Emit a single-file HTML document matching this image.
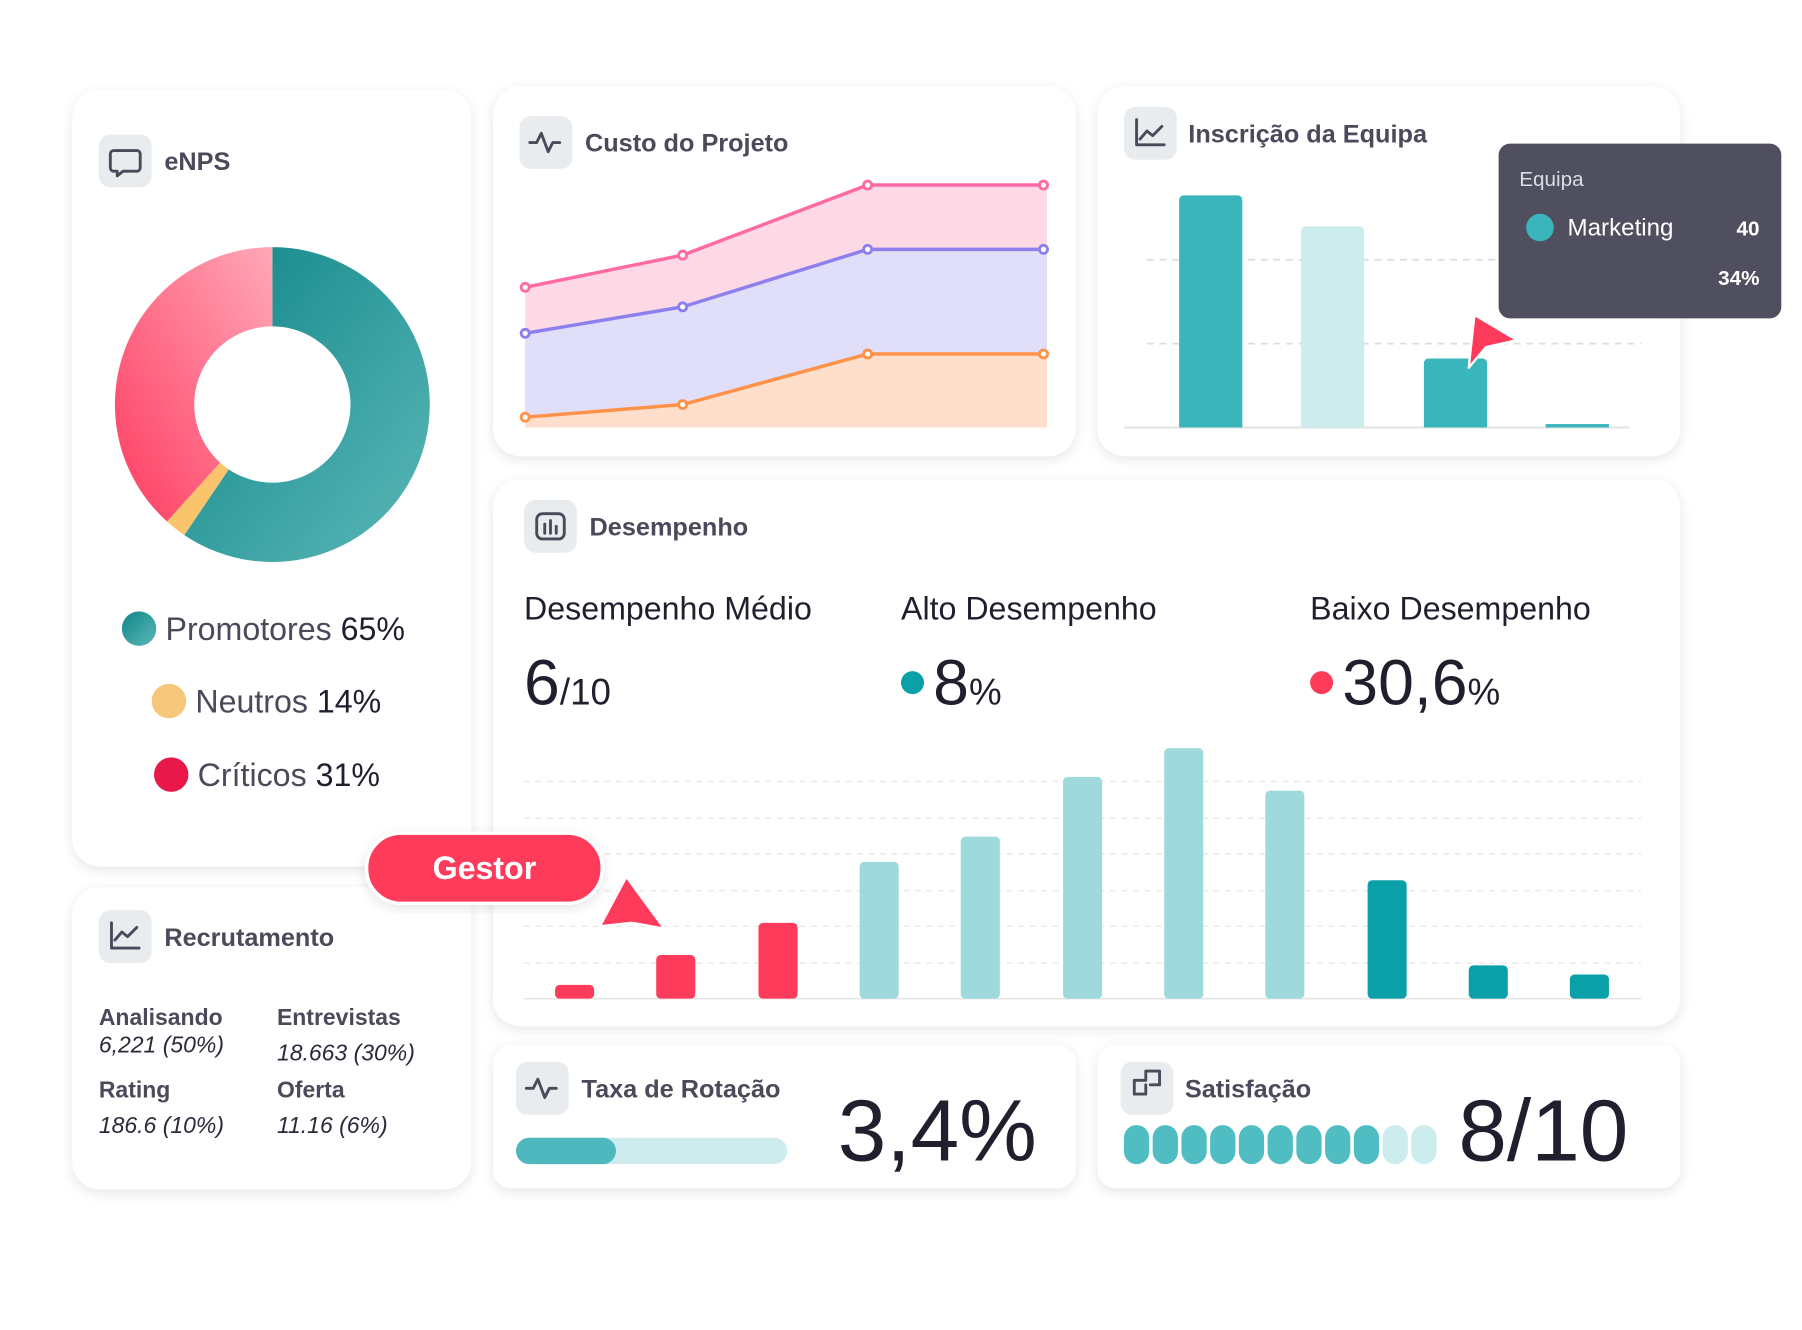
<!DOCTYPE html>
<html><head><meta charset="utf-8"><style>
html,body{margin:0;padding:0;background:#fff;}
svg{display:block;}
text{font-family:"Liberation Sans",sans-serif;}
</style></head><body>
<svg width="1802" height="1330" viewBox="0 0 1568 1157.3" xmlns="http://www.w3.org/2000/svg">
<defs>
<filter id="sh" x="-10%" y="-10%" width="120%" height="125%"><feDropShadow dx="0" dy="3" stdDeviation="5" flood-color="#000" flood-opacity="0.10"/></filter>
<linearGradient id="tg" x1="0" y1="0" x2="1" y2="1"><stop offset="0" stop-color="#0f8588"/><stop offset="1" stop-color="#5cb8b8"/></linearGradient>
<linearGradient id="pg" x1="0" y1="1" x2="1" y2="0"><stop offset="0" stop-color="#ff3b60"/><stop offset="1" stop-color="#ffa8b8"/></linearGradient>
</defs>
<g filter="url(#sh)" fill="#fff">
<rect x="63" y="78" width="347" height="676" rx="24"/>
<rect x="429" y="75" width="507" height="322" rx="24"/>
<rect x="955" y="75" width="507" height="322" rx="24"/>
<rect x="429" y="417" width="1033" height="476" rx="24"/>
<rect x="63" y="772" width="347" height="263" rx="24"/>
<rect x="429" y="909" width="507" height="125" rx="16"/>
<rect x="955" y="909" width="507" height="125" rx="16"/>
</g>
<g fill="#e9ecef">
<rect x="86" y="117" width="46" height="46" rx="10"/>
<rect x="452" y="101" width="46" height="46" rx="10"/>
<rect x="978" y="93" width="46" height="46" rx="10"/>
<rect x="456" y="435" width="46" height="46" rx="10"/>
<rect x="86" y="792" width="46" height="46" rx="10"/>
<rect x="449" y="924" width="46" height="46" rx="10"/>
<rect x="975" y="924" width="46" height="46" rx="10"/>
</g>
<g fill="none" stroke="#4a4a5a" stroke-width="2.5" stroke-linecap="round" stroke-linejoin="round">
<path d="M99 131h20a3 3 0 0 1 3 3v12a3 3 0 0 1-3 3h-12l-5 4v-4h-3a3 3 0 0 1-3-3v-12a3 3 0 0 1 3-3z"/>
<path d="M461 124h6l4-8 6 16 4-8h6"/>
<path d="M989 104v22h24M992 121l6-7 5 4 8-8"/>
<rect x="467" y="447" width="24" height="22" rx="5"/><path d="M474 456v8M479 453v11M484 458v6"/>
<path d="M97 803v22h24M100 818l6-7 5 4 8-8"/>
<path d="M458 947h6l4-8 6 16 4-8h6"/>
<path d="M987 940h10v-8h12v12h-8M987 940v12h10v-8"/>
</g>
<g font-weight="bold" font-size="22" fill="#4a4a5a">
<text x="143" y="148">eNPS</text>
<text x="509" y="132">Custo do Projeto</text>
<text x="1034" y="124">Inscrição da Equipa</text>
<text x="513" y="466">Desempenho</text>
<text x="143" y="823">Recrutamento</text>
<text x="506" y="955">Taxa de Rotação</text>
<text x="1031" y="955">Satisfação</text>
</g>
<path d="M237,215 A137,137 0 1 1 160.4,465.6 L199,408.4 A68,68 0 1 0 237,284 Z" fill="url(#tg)"/>
<path d="M160.4,465.6 A137,137 0 0 1 145.3,453.8 L191.5,402.5 A68,68 0 0 0 199,408.4 Z" fill="#f9c46b"/>
<path d="M145.3,453.8 A137,137 0 0 1 237,215 L237,284 A68,68 0 0 0 191.5,402.5 Z" fill="url(#pg)"/>
<circle cx="121" cy="547" r="15" fill="url(#tg)"/>
<circle cx="147" cy="610" r="15" fill="#f6c77a"/>
<circle cx="149" cy="674" r="15" fill="#e8194a"/>
<g font-size="28" fill="#4a4a5a">
<text x="144" y="557">Promotores <tspan fill="#1f1f2e">65%</tspan></text>
<text x="170" y="620">Neutros <tspan fill="#1f1f2e">14%</tspan></text>
<text x="172" y="684">Críticos <tspan fill="#1f1f2e">31%</tspan></text>
</g>
<g font-size="20" fill="#2a2a3a">
<text x="86" y="892" font-weight="bold" fill="#4a4a5a">Analisando</text>
<text x="86" y="916" font-style="italic">6,221 (50%)</text>
<text x="241" y="892" font-weight="bold" fill="#4a4a5a">Entrevistas</text>
<text x="241" y="923" font-style="italic">18.663 (30%)</text>
<text x="86" y="955" font-weight="bold" fill="#4a4a5a">Rating</text>
<text x="86" y="986" font-style="italic">186.6 (10%)</text>
<text x="241" y="955" font-weight="bold" fill="#4a4a5a">Oferta</text>
<text x="241" y="986" font-style="italic">11.16 (6%)</text>
</g>
<path d="M457 250 L594 222 L755 161 L908 161 L911 161 L911 372 L457 372 Z" fill="#fdd9e6"/>
<path d="M457 290 L594 267 L755 217 L908 217 L911 217 L911 372 L457 372 Z" fill="#e1defa"/>
<path d="M457 363 L594 352 L755 308 L908 308 L911 308 L911 372 L457 372 Z" fill="#ffdfcc"/>
<g fill="none" stroke-width="3">
<polyline points="457,250 594,222 755,161 908,161" stroke="#ff6aa2"/>
<polyline points="457,290 594,267 755,217 908,217" stroke="#8b80ee"/>
<polyline points="457,363 594,352 755,308 908,308" stroke="#ff9148"/>
</g>
<g fill="#fff" stroke-width="2.5">
<g stroke="#ff6aa2"><circle cx="457" cy="250" r="3.5"/><circle cx="594" cy="222" r="3.5"/><circle cx="755" cy="161" r="3.5"/><circle cx="908" cy="161" r="3.5"/></g>
<g stroke="#8b80ee"><circle cx="457" cy="290" r="3.5"/><circle cx="594" cy="267" r="3.5"/><circle cx="755" cy="217" r="3.5"/><circle cx="908" cy="217" r="3.5"/></g>
<g stroke="#ff9148"><circle cx="457" cy="363" r="3.5"/><circle cx="594" cy="352" r="3.5"/><circle cx="755" cy="308" r="3.5"/><circle cx="908" cy="308" r="3.5"/></g>
</g>
<g stroke="#ddd" stroke-width="1.5" stroke-dasharray="6 5"><line x1="998" y1="226" x2="1428" y2="226"/><line x1="998" y1="299" x2="1428" y2="299"/></g>
<line x1="978" y1="372" x2="1418" y2="372" stroke="#e5e5e5" stroke-width="2"/>
<path d="M1026 372V174a4 4 0 0 1 4-4h47a4 4 0 0 1 4 4V372Z" fill="#3ab5bb"/>
<path d="M1132 372V201a4 4 0 0 1 4-4h47a4 4 0 0 1 4 4V372Z" fill="#cdecee"/>
<path d="M1239 372V316a4 4 0 0 1 4-4h47a4 4 0 0 1 4 4V372Z" fill="#3ab5bb"/>
<rect x="1345" y="369" width="55" height="3" fill="#3ab5bb"/>
<rect x="1304" y="125" width="246" height="152" rx="10" fill="#4f4f5f"/>
<text x="1322" y="162" font-size="18" fill="#dcdce4">Equipa</text>
<circle cx="1340" cy="198" r="12" fill="#3ab5bb"/>
<text x="1364" y="205" font-size="21" fill="#fff">Marketing</text>
<text x="1531" y="205" font-size="18" fill="#fff" text-anchor="end" font-weight="bold">40</text>
<text x="1531" y="248" font-size="18" fill="#fff" text-anchor="end" font-weight="bold">34%</text>
<path d="M1283 274 L1320 296 L1293 302 L1278 320 Z" fill="#ff3b5c" stroke="#fff" stroke-width="2" stroke-linejoin="round"/>
<g font-size="28" fill="#1f1f2e">
<text x="456" y="539">Desempenho Médio</text>
<text x="784" y="539">Alto Desempenho</text>
<text x="1140" y="539">Baixo Desempenho</text>
</g>
<g fill="#1f1f2e">
<text x="456" y="613" font-size="56">6<tspan font-size="32">/10</tspan></text>
<circle cx="794" cy="594" r="10" fill="#0aa0a8"/>
<text x="812" y="613" font-size="56">8<tspan font-size="32">%</tspan></text>
<circle cx="1150" cy="594" r="10" fill="#ff3b5c"/>
<text x="1168" y="613" font-size="56">30,6<tspan font-size="32">%</tspan></text>
</g>
<g stroke="#e8e8e8" stroke-width="1.2" stroke-dasharray="5 5">
<line x1="456" y1="680" x2="1428" y2="680"/><line x1="456" y1="712" x2="1428" y2="712"/><line x1="456" y1="743" x2="1428" y2="743"/><line x1="456" y1="775" x2="1428" y2="775"/><line x1="456" y1="806" x2="1428" y2="806"/><line x1="456" y1="838" x2="1428" y2="838"/>
</g>
<line x1="456" y1="869" x2="1428" y2="869" stroke="#e5e5e5" stroke-width="1.5"/>
<g>
<rect x="483" y="857" width="34" height="12" rx="4" fill="#ff3b5c"/>
<rect x="571" y="831" width="34" height="38" rx="4" fill="#ff3b5c"/>
<rect x="660" y="803" width="34" height="66" rx="4" fill="#ff3b5c"/>
<rect x="748" y="750" width="34" height="119" rx="4" fill="#9ed9dc"/>
<rect x="836" y="728" width="34" height="141" rx="4" fill="#9ed9dc"/>
<rect x="925" y="676" width="34" height="193" rx="4" fill="#9ed9dc"/>
<rect x="1013" y="651" width="34" height="218" rx="4" fill="#9ed9dc"/>
<rect x="1101" y="688" width="34" height="181" rx="4" fill="#9ed9dc"/>
<rect x="1190" y="766" width="34" height="103" rx="4" fill="#0aa0a8"/>
<rect x="1278" y="840" width="34" height="29" rx="4" fill="#0aa0a8"/>
<rect x="1366" y="848" width="34" height="21" rx="4" fill="#0aa0a8"/>
</g>
<rect x="449" y="990" width="236" height="23" rx="11.5" fill="#cdecee"/>
<rect x="449" y="990" width="87" height="23" rx="11.5" fill="#4fb8be"/>
<text x="729" y="1010" font-size="76" fill="#1f1f2e">3,4%</text>
<g fill="#4fbdc1">
<rect x="978" y="979" width="22" height="34" rx="11"/><rect x="1003" y="979" width="22" height="34" rx="11"/><rect x="1028" y="979" width="22" height="34" rx="11"/><rect x="1053" y="979" width="22" height="34" rx="11"/><rect x="1078" y="979" width="22" height="34" rx="11"/><rect x="1103" y="979" width="22" height="34" rx="11"/><rect x="1128" y="979" width="22" height="34" rx="11"/><rect x="1153" y="979" width="22" height="34" rx="11"/><rect x="1178" y="979" width="22" height="34" rx="11"/>
<rect x="1203" y="979" width="22" height="34" rx="11" fill="#cdecee"/><rect x="1228" y="979" width="22" height="34" rx="11" fill="#cdecee"/>
</g>
<text x="1269" y="1010" font-size="76" fill="#1f1f2e">8/10</text>
<rect x="319" y="725" width="205" height="61" rx="30" fill="#ff3b5c" stroke="#fff" stroke-width="3" filter="url(#sh)"/>
<text x="421.5" y="765" font-size="28" fill="#fff" text-anchor="middle" font-weight="bold">Gestor</text>
<path d="M545 763 L578 808 L550 803 L522 806 Z" fill="#ff3b5c" stroke="#fff" stroke-width="2" stroke-linejoin="round"/>
</svg>
</body></html>
